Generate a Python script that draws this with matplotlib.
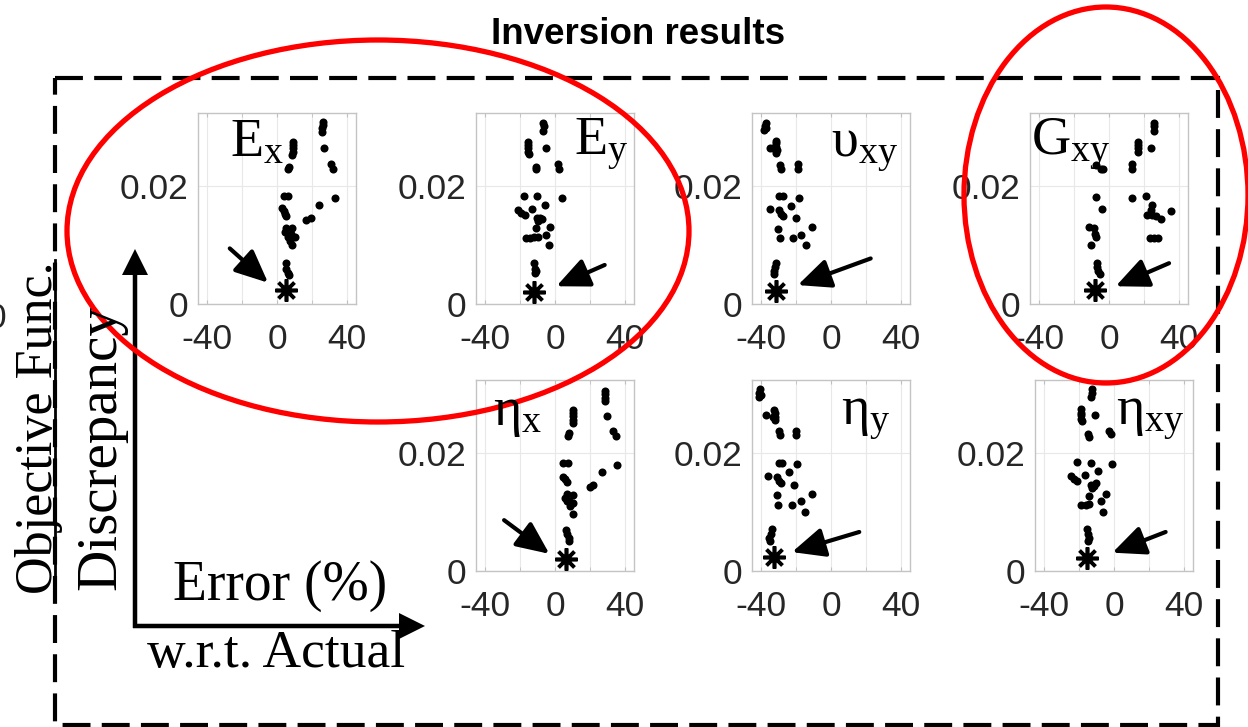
import numpy as np
import matplotlib.pyplot as plt
from matplotlib.patches import Ellipse, Rectangle, FancyArrow

plt.rcParams['mathtext.fontset'] = 'custom'
plt.rcParams['mathtext.rm'] = 'Liberation Serif'
plt.rcParams['mathtext.it'] = 'Liberation Serif:italic'

# Error (%) w.r.t. actual value vs. objective function discrepancy, one list per parameter
ex_err = [26.2, 26.2, 25.6, 25.8, 26.6, 30.9, 31.9, 32.8, 23.9, 19.5, 16.7, 9.1, 9.1, 9.1, 9.1,
          8.7, 6.6, 6.3, 3.8, 6.3, 3.0, 3.8, 4.6, 5.3, 5.3, 8.7, 4.4, 8.2, 6.3, 10.1, 7.6, 8.7,
          4.9, 5.3, 6.3, 6.8]
ex_obj = [0.0308, 0.0303, 0.0297, 0.0291, 0.0263, 0.0236, 0.0229, 0.0180, 0.0167, 0.0145, 0.0142,
          0.0274, 0.0269, 0.0263, 0.0257, 0.0252, 0.0232, 0.0228, 0.0183, 0.0183, 0.0162, 0.0158,
          0.0152, 0.0148, 0.0128, 0.0128, 0.0122, 0.0119, 0.0114, 0.0114, 0.0107, 0.0099, 0.0069,
          0.0060, 0.0053, 0.0049]

ey_err = [-6.8, -6.5, -6.8, -15.4, -15.4, -15.4, -15.4, -14.8, -5.3, -11.0, -10.6, 1.7, 2.3,
          -17.6, -10.2, 4.2, -21.1, -19.2, -17.3, -13.1, -5.5, -10.2, -8.3, -7.2, -9.5, -10.6,
          -2.7, -4.9, -16.3, -14.4, -12.0, -9.7, -3.6, -12.0, -11.4, -11.0, -11.6]
ey_obj = [0.0306, 0.0301, 0.0292, 0.0274, 0.0269, 0.0263, 0.0257, 0.0254, 0.0263, 0.0232, 0.0228,
          0.0237, 0.0229, 0.0183, 0.0183, 0.0180, 0.0159, 0.0154, 0.0150, 0.0160, 0.0167, 0.0146,
          0.0145, 0.0143, 0.0141, 0.0128, 0.0130, 0.0117, 0.0112, 0.0112, 0.0113, 0.0114, 0.0099,
          0.0069, 0.0060, 0.0055, 0.0052]

vxy_err = [-37.2, -37.7, -38.1, -36.8, -31.5, -31.1, -31.1, -30.8, -31.1, -34.9, -33.0, -28.9,
           -28.3, -18.9, -18.9, -29.6, -27.4, -18.3, -34.9, -29.6, -28.3, -27.4, -22.6, -19.8,
           -30.0, -10.8, -29.2, -21.7, -17.0, -14.2, -31.5, -31.9, -32.6, -32.3]
vxy_obj = [0.0306, 0.0301, 0.0295, 0.0297, 0.0276, 0.0272, 0.0266, 0.0260, 0.0255, 0.0264, 0.0263,
           0.0235, 0.0229, 0.0236, 0.0229, 0.0183, 0.0183, 0.0180, 0.0160, 0.0159, 0.0153, 0.0148,
           0.0166, 0.0145, 0.0127, 0.0130, 0.0112, 0.0112, 0.0117, 0.0099, 0.0070, 0.0063, 0.0055,
           0.0051]

gxy_err = [25.6, 25.6, 25.6, 16.7, 16.7, 16.7, 16.3, 23.7, 12.9, 13.3, -7.2, -4.7, -3.4, -7.2,
           -4.2, 12.9, 20.9, 24.7, 23.7, 24.7, 21.8, 26.9, 29.4, 35.1, -11.4, -8.5, -8.0, -7.6,
           -10.4, 23.1, 25.6, 27.9, -6.6, -6.6, -6.1, -5.3]
gxy_obj = [0.0306, 0.0301, 0.0293, 0.0274, 0.0269, 0.0263, 0.0257, 0.0263, 0.0237, 0.0229, 0.0235,
           0.0229, 0.0228, 0.0181, 0.0160, 0.0180, 0.0183, 0.0167, 0.0159, 0.0150, 0.0150, 0.0148,
           0.0143, 0.0157, 0.0131, 0.0128, 0.0119, 0.0114, 0.0100, 0.0112, 0.0112, 0.0112, 0.0070,
           0.0063, 0.0055, 0.0051]

etax_err = [28.5, 28.5, 28.5, 28.5, 29.8, 33.2, 34.7, 35.5, 26.6, 21.8, 19.9, 10.4, 10.4, 10.4,
            10.4, 10.1, 8.2, 7.6, 4.7, 7.6, 4.7, 5.7, 6.6, 6.6, 10.4, 5.7, 8.2, 10.4, 8.5, 10.4,
            6.6, 6.3, 6.6, 8.2, 8.2]
etax_obj = [0.0304, 0.0299, 0.0293, 0.0288, 0.0262, 0.0237, 0.0228, 0.0179, 0.0167, 0.0145, 0.0142,
            0.0273, 0.0268, 0.0262, 0.0256, 0.0251, 0.0234, 0.0228, 0.0183, 0.0183, 0.0159, 0.0155,
            0.0151, 0.0130, 0.0128, 0.0123, 0.0118, 0.0115, 0.0110, 0.0096, 0.0118, 0.0069, 0.0062,
            0.0056, 0.0051]

etay_err = [-40.4, -40.8, -41.2, -39.8, -37.0, -32.3, -31.7, -31.7, -31.7, -32.8, -29.8, -29.0,
            -19.9, -19.9, -29.8, -27.9, -19.5, -36.1, -30.9, -29.4, -28.5, -24.1, -20.9, -30.9,
            -10.8, -30.2, -22.2, -17.1, -14.6, -33.6, -34.2, -35.1, -34.7]
etay_obj = [0.0307, 0.0301, 0.0294, 0.0298, 0.0264, 0.0273, 0.0267, 0.0261, 0.0256, 0.0261, 0.0236,
            0.0230, 0.0237, 0.0230, 0.0183, 0.0183, 0.0181, 0.0161, 0.0159, 0.0153, 0.0148, 0.0168,
            0.0145, 0.0128, 0.0131, 0.0112, 0.0112, 0.0118, 0.0099, 0.0071, 0.0063, 0.0055, 0.0051]

etaxy_err = [-12.3, -12.3, -12.9, -19.0, -19.0, -19.0, -19.0, -18.4, -11.0, -14.8, -14.2, -2.8,
             -1.9, -20.9, -13.3, -0.9, -24.3, -22.8, -20.9, -16.7, -9.1, -13.3, -11.4, -10.4,
             -12.3, -14.2, -4.7, -7.6, -19.0, -16.1, -14.2, -6.1, -15.2, -14.8, -14.2, -14.8]
etaxy_obj = [0.0307, 0.0301, 0.0294, 0.0274, 0.0268, 0.0263, 0.0257, 0.0254, 0.0264, 0.0231, 0.0227,
             0.0237, 0.0231, 0.0184, 0.0183, 0.0181, 0.0161, 0.0156, 0.0152, 0.0162, 0.0169, 0.0146,
             0.0144, 0.0148, 0.0140, 0.0127, 0.0131, 0.0118, 0.0112, 0.0112, 0.0114, 0.0099, 0.0071,
             0.0063, 0.0055, 0.0051]

# best (lowest discrepancy) solution of each inversion
best_err = [4.9, -12.0, -31.1, -8.0, 6.3, -32.3, -15.2]
best_obj = [0.0023, 0.0021, 0.0022, 0.0023, 0.0020, 0.0023, 0.0022]

param_labels = [r'$\mathrm{E}_{\mathrm{x}}$', r'$\mathrm{E}_{\mathrm{y}}$', r'$\mathrm{υ}_{\mathrm{xy}}$',
                r'$\mathrm{G}_{\mathrm{xy}}$', r'$\mathrm{η}_{\mathrm{x}}$', r'$\mathrm{η}_{\mathrm{y}}$',
                r'$\mathrm{η}_{\mathrm{xy}}$']
err_sets = [ex_err, ey_err, vxy_err, gxy_err, etax_err, etay_err, etaxy_err]
obj_sets = [ex_obj, ey_obj, vxy_obj, gxy_obj, etax_obj, etay_obj, etaxy_obj]

# layout, in pixels of the 1248x727 canvas
W, H = 1248, 727
boxes = [(198, 113), (476, 113), (752, 113), (1030, 113), (476, 380), (752, 380), (1035, 380)]
box_w, box_h = 158, 191
label_pos = [(230, 157), (574, 155), (831, 157), (1031, 155), (493, 425), (841, 424), (1116, 424)]
# pointer arrows (tail, tip) in data units of each panel
pointers = [((-26.9, 0.0094), (-5.1, 0.0036)), ((28.3, 0.0066), (0.8, 0.0030)),
            ((22.6, 0.0077), (-18.9, 0.0032)), ((34.2, 0.0069), (3.8, 0.0030)),
            ((-29.0, 0.0086), (-3.2, 0.0029)), ((16.1, 0.0066), (-22.2, 0.0032)),
            ((29.4, 0.0066), (-0.9, 0.0031))]

fig = plt.figure(figsize=(W / 100, H / 100), dpi=100)
tick_font = dict(family='Liberation Sans', size=25.5, color='#262626')

for i in range(7):
    left, top = boxes[i]
    ax = fig.add_axes([left / W, 1 - (top + box_h) / H, box_w / W, box_h / H])
    ax.plot(err_sets[i], obj_sets[i], 'o', color='k', ms=5.8, mew=0, zorder=3)
    ax.plot(best_err[i], best_obj[i], marker=(8, 2, 0), color='k', ms=16, mew=2.6, zorder=4)
    (tx, ty), (hx, hy) = pointers[i]
    ax.annotate('', xy=(hx, hy), xytext=(tx, ty), annotation_clip=False,
                arrowprops=dict(arrowstyle='-|>,head_length=1.0,head_width=0.45', lw=3,
                                color='k', shrinkA=0, shrinkB=0, mutation_scale=20))
    ax.set_xlim(-45, 45)
    ax.set_ylim(0, 0.0323)
    ax.set_xticks([-40, 0, 40])
    ax.set_xticks([-20, 20], minor=True)
    ax.set_yticks([0, 0.02])
    ax.set_xticklabels(['-40', '0', '40'], **tick_font)
    ax.set_yticklabels(['0', '0.02'], **tick_font)
    ax.tick_params(which='both', direction='in', length=3, color='#c0c0c0', top=True)
    ax.tick_params(axis='x', pad=14)
    ax.tick_params(axis='y', pad=7, length=0)
    ax.grid(which='both', color='#e8e8e8', lw=0.8)
    ax.set_axisbelow(True)
    for s in ax.spines.values():
        s.set_color('#c4c4c4')
        s.set_linewidth(1.0)

# overlay in pixel coordinates for the frame, annotations and highlights
ov = fig.add_axes([0, 0, 1, 1], zorder=10)
ov.set_xlim(0, W)
ov.set_ylim(H, 0)
ov.axis('off')

for i in range(7):
    ov.text(label_pos[i][0], label_pos[i][1], param_labels[i], fontsize=39,
            ha='left', va='baseline')

ov.text(638, 35, 'Inversion results', family='Liberation Sans', weight='bold',
        fontsize=26.5, ha='center', va='center')

ov.add_patch(Rectangle((55, 78), 1163, 647, fill=False, ec='k', lw=3,
                       ls=(0, (6.7, 2.7))))
ov.plot([55, 55], [260, 597], color='k', lw=2)

serif = dict(family='Liberation Serif', color='k')
ov.text(52, 428, 'Objective Func.', rotation=90, rotation_mode='anchor',
        ha='center', va='baseline', fontsize=37.5, **serif)
ov.text(115, 448, 'Discrepancy', rotation=90, rotation_mode='anchor',
        ha='center', va='baseline', fontsize=41, **serif)
ov.text(280, 600, 'Error (%)', ha='center', va='baseline', fontsize=40, **serif)
ov.text(276, 667, 'w.r.t. Actual', ha='center', va='baseline', fontsize=38.5, **serif)

ov.add_patch(FancyArrow(135, 628, 0, -379, width=4.5, head_width=26, head_length=26,
                        length_includes_head=True, color='k', lw=0))
ov.add_patch(FancyArrow(133, 626, 292, 0, width=4.5, head_width=26, head_length=26,
                        length_includes_head=True, color='k', lw=0))

# clipped tick label of a neighbouring panel
ov.text(-4, 318, '0', ha='center', va='center', **tick_font)

ov.add_patch(Ellipse((378, 231), 622, 382, fill=False, ec='#ff0000', lw=3.8))
ov.add_patch(Ellipse((1106, 195), 284, 376, fill=False, ec='#ff0000', lw=3.8))

fig.savefig('out.png', dpi=100)
plt.close('all')
